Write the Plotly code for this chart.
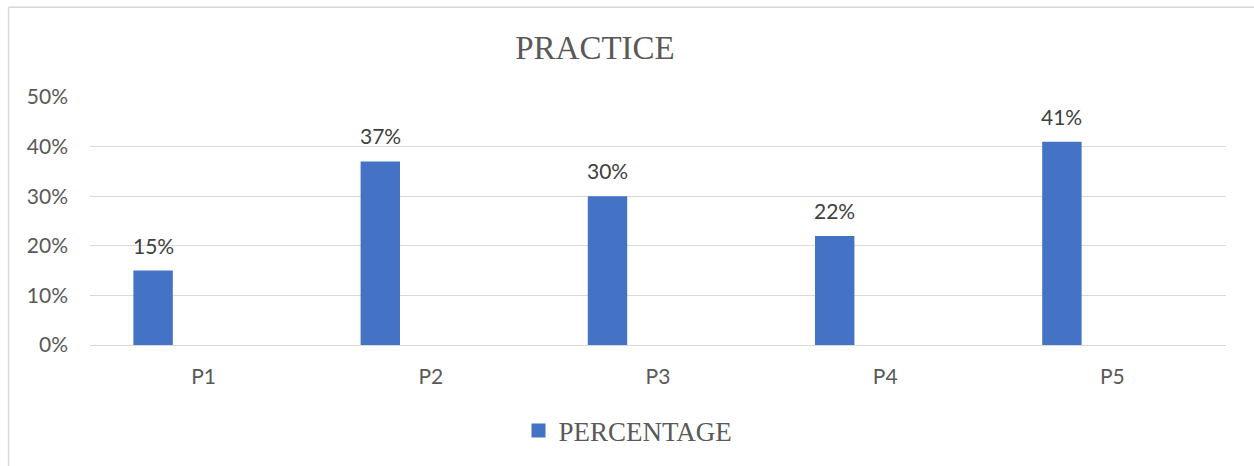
import plotly.graph_objects as go

categories = ["P1", "P2", "P3", "P4", "P5"]
percentage = [0.15, 0.37, 0.30, 0.22, 0.41]
y_ticks = [0, 0.1, 0.2, 0.3, 0.4, 0.5]
y_tick_labels = ["0%", "10%", "20%", "30%", "40%", "50%"]

BAR_COLOR = "#4472C4"
GRID = "#D9D9D9"
SANS = "Lato, 'Open Sans', sans-serif"
SERIF = "'Liberation Serif', 'Times New Roman', serif"

# bar sits in the left half of its category slot
BAR_WIDTH = 0.1735
BAR_OFFSET = -0.309

fig = go.Figure()
fig.add_trace(go.Bar(
    x=categories,
    y=percentage,
    name="PERCENTAGE",
    marker=dict(color=BAR_COLOR, line=dict(width=0)),
    width=BAR_WIDTH,
    offset=BAR_OFFSET,
    showlegend=False,
))
# legend entry drawn as a solid square swatch
fig.add_trace(go.Scatter(
    x=[None], y=[None], mode="markers", name="PERCENTAGE",
    marker=dict(symbol="square", size=14, color=BAR_COLOR),
    showlegend=True,
))

# value labels above each bar
plot_w = 1254 - 90 - 28
slot = plot_w / len(categories)
label_shift = (BAR_OFFSET + BAR_WIDTH / 2) * slot
for cat, val in zip(categories, percentage):
    fig.add_annotation(
        x=cat, y=val, xref="x", yref="y",
        text=f"{round(val * 100)}%",
        showarrow=False, xanchor="center", yanchor="bottom",
        xshift=label_shift, yshift=11,
        font=dict(family=SANS, size=21, color="#404040"),
    )

# outer chart frame (top and left edges)
fig.add_shape(type="line", xref="paper", yref="paper",
              x0=-0.0717, x1=1.05, y0=1.3614, y1=1.3614,
              line=dict(color=GRID, width=1.5))
fig.add_shape(type="line", xref="paper", yref="paper",
              x0=-0.0717, x1=-0.0717, y0=1.3614, y1=-0.6,
              line=dict(color=GRID, width=1.5))

fig.update_layout(
    width=1254, height=466,
    margin=dict(l=90, r=28, t=97, b=120),
    paper_bgcolor="white", plot_bgcolor="white",
    title=dict(text="PRACTICE", x=595 / 1254, xanchor="center",
               y=1 - 47 / 466, yanchor="middle", xref="container", yref="container",
               font=dict(family=SERIF, size=33, color="#595959")),
    showlegend=True,
    legend=dict(orientation="h", x=0.5 - 30 / plot_w, xanchor="center", y=-0.341, yanchor="middle",
                font=dict(family=SERIF, size=27, color="#595959"),
                itemwidth=30, bgcolor="rgba(0,0,0,0)"),
    xaxis=dict(type="category", showgrid=False, zeroline=False, showline=False,
               ticks="", ticklabelstandoff=17,
               tickfont=dict(family=SANS, size=21, color="#595959")),
    yaxis=dict(range=[0, 0.5], tickvals=y_ticks, ticktext=y_tick_labels,
               showgrid=True, gridcolor=GRID, gridwidth=1.3,
               zeroline=True, zerolinecolor=GRID, zerolinewidth=1.3,
               showline=False, ticks="", ticklabelstandoff=21,
               tickfont=dict(family=SANS, size=21, color="#595959")),
)

fig.write_html("out.html")
